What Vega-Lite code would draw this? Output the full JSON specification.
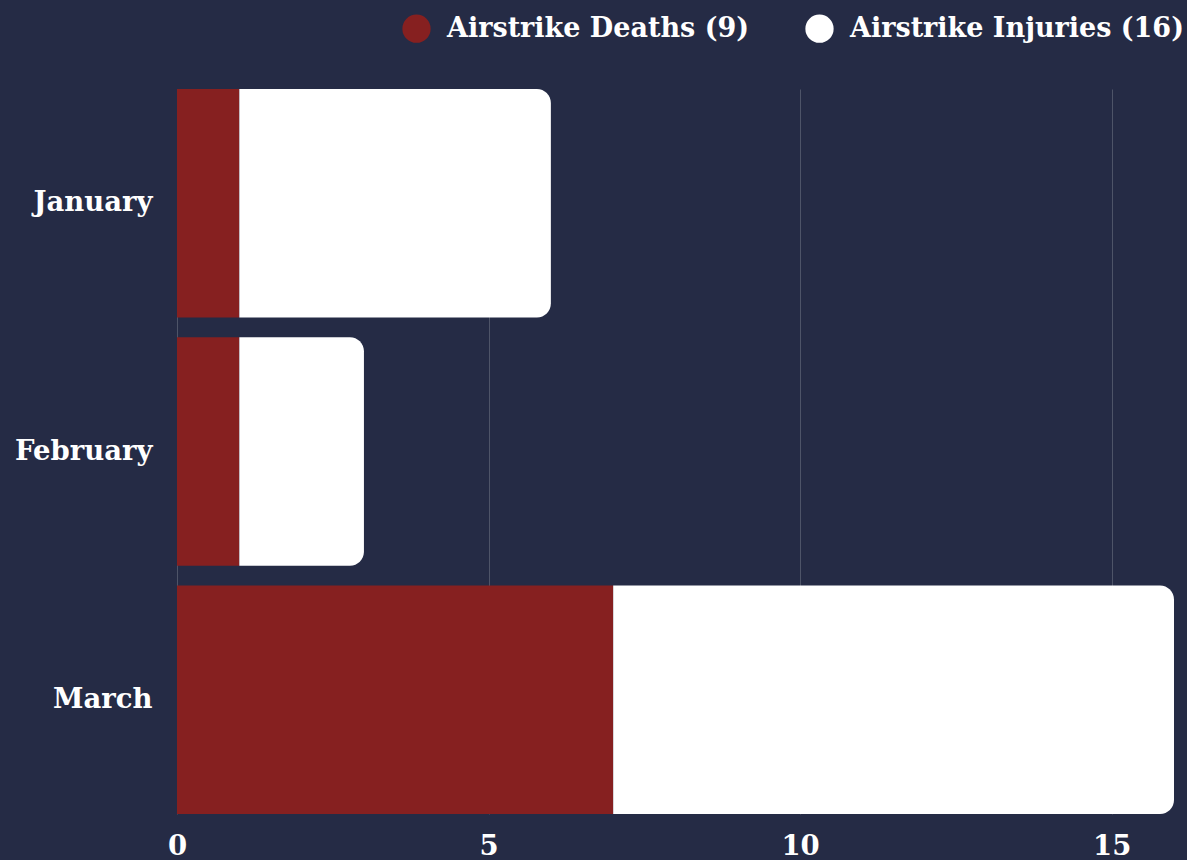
{
  "$schema": "https://vega.github.io/schema/vega-lite/v6.json",
  "width": 997,
  "height": 725,
  "autosize": {"type": "none"},
  "padding": {"left": 177, "top": 89, "right": 13, "bottom": 46},
  "background": "#252b45",
  "data": {
    "values": [
      {"month": "January", "type": "Airstrike Deaths (9)", "value": 1},
      {"month": "January", "type": "Airstrike Injuries (16)", "value": 5},
      {"month": "February", "type": "Airstrike Deaths (9)", "value": 1},
      {"month": "February", "type": "Airstrike Injuries (16)", "value": 2},
      {"month": "March", "type": "Airstrike Deaths (9)", "value": 7},
      {"month": "March", "type": "Airstrike Injuries (16)", "value": 9}
    ]
  },
  "transform": [
    {"stack": "value", "groupby": ["month"], "sort": [{"field": "type", "order": "ascending"}], "as": ["v0", "v1"]}
  ],
  "encoding": {
    "y": {
      "field": "month", "type": "nominal",
      "sort": ["January", "February", "March"],
      "scale": {"paddingInner": 0.08, "paddingOuter": 0},
      "axis": {"title": null, "domain": false, "ticks": false, "labelPadding": 25, "labelFontSize": 27.5, "labelFont": "DejaVu Serif", "labelFontWeight": "bold", "labelColor": "#ffffff"}
    },
    "x": {
      "field": "v0", "type": "quantitative",
      "scale": {"domain": [0, 16], "nice": false, "zero": true},
      "axis": {"title": null, "values": [0, 5, 10, 15], "domain": false, "ticks": false, "grid": true, "gridColor": "#4e5468", "gridWidth": 1, "labelPadding": 18, "labelFontSize": 27.5, "labelFont": "DejaVu Serif", "labelFontWeight": "bold", "labelColor": "#ffffff", "labelFlush": false}
    },
    "x2": {"field": "v1"},
    "color": {
      "field": "type", "type": "nominal",
      "scale": {"domain": ["Airstrike Deaths (9)", "Airstrike Injuries (16)"], "range": ["#862020", "#ffffff"]},
      "legend": {
        "title": null, "orient": "none", "direction": "horizontal",
        "legendX": 225, "legendY": -75,
        "symbolType": "circle", "symbolSize": 800, "symbolStrokeWidth": 0, "symbolOpacity": 1,
        "labelFontSize": 27, "labelFont": "DejaVu Serif", "labelFontWeight": "bold", "labelColor": "#ffffff",
        "labelOffset": 16, "columnPadding": 56, "labelLimit": 500
      }
    }
  },
  "layer": [
    {"transform": [{"filter": "datum.type === 'Airstrike Deaths (9)'"}], "mark": {"type": "bar", "opacity": 1}},
    {"transform": [{"filter": "datum.type === 'Airstrike Injuries (16)'"}], "mark": {"type": "bar", "opacity": 1, "cornerRadiusTopRight": 14, "cornerRadiusBottomRight": 14}}
  ],
  "config": {"view": {"stroke": null}}
}
